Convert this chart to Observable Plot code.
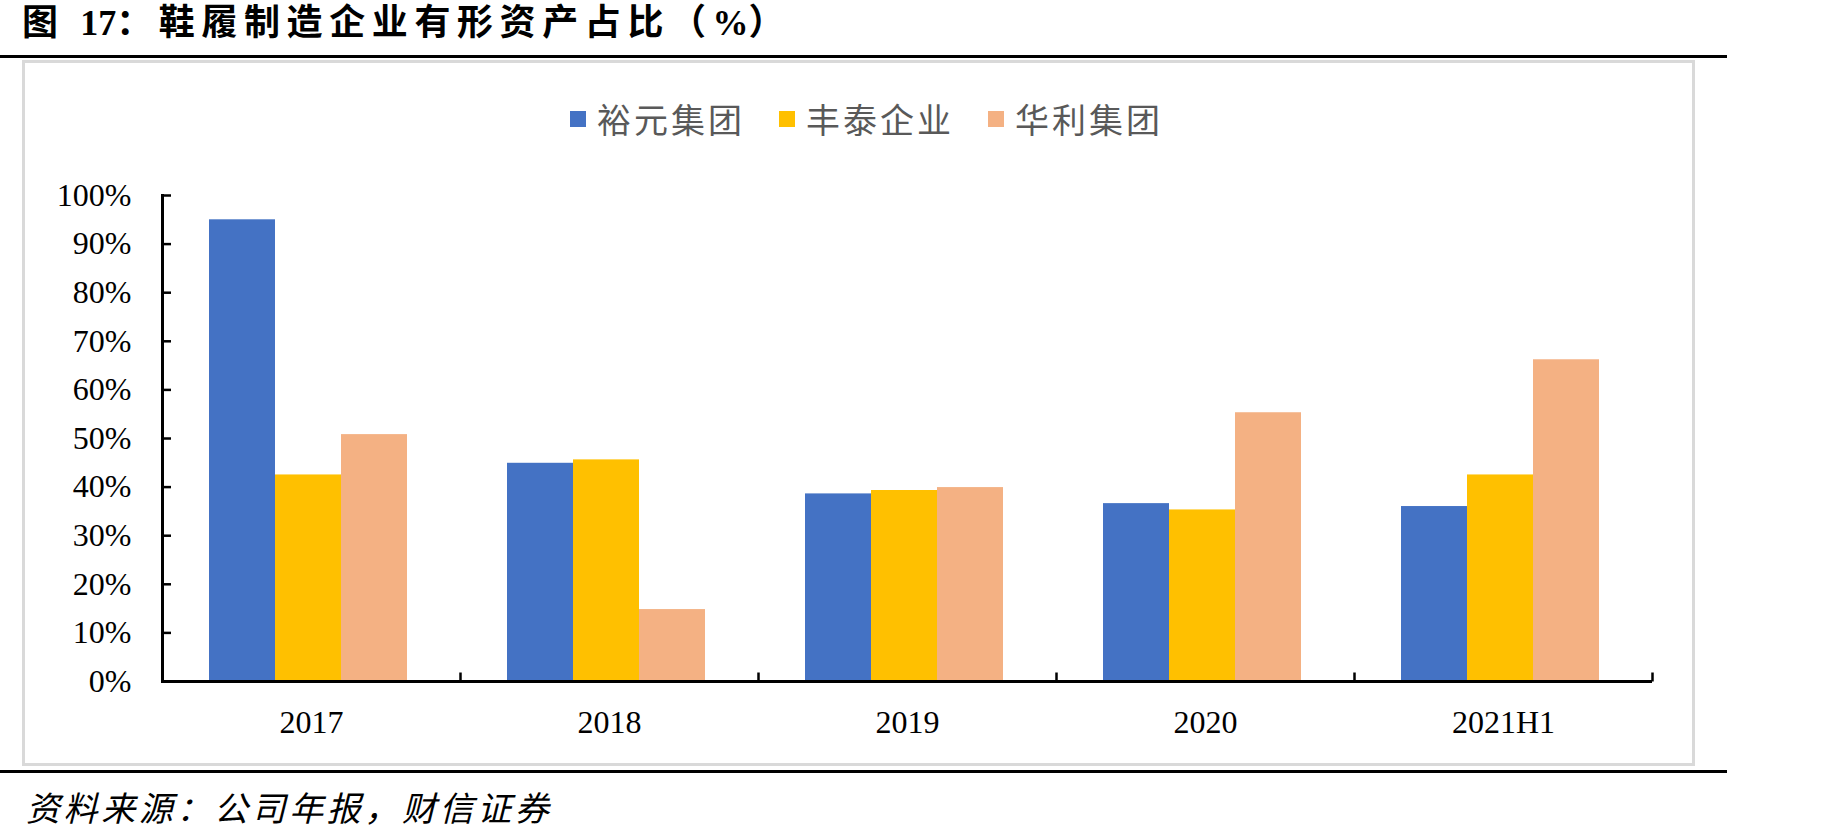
<!DOCTYPE html>
<html>
<head>
<meta charset="utf-8">
<script src="https://cdn.jsdelivr.net/npm/d3@7"></script>
<script src="https://cdn.jsdelivr.net/npm/@observablehq/plot@0.6"></script>
<style>
  body { margin: 0; background: #fff; }
  #page { position: relative; width: 1842px; height: 840px; overflow: hidden; font-family: "Noto Sans CJK SC", sans-serif; }
  #title { position: absolute; left: 22px; top: 4px; font-family: "Liberation Serif", "Noto Sans CJK SC", serif; font-size: 36px; line-height: 38px; font-weight: 700; letter-spacing: 6.6px; white-space: nowrap; color: #000; }
  #title .n { letter-spacing: 0; }
  .rule { position: absolute; left: 0; width: 1727px; height: 3px; background: #000; }
  #box { position: absolute; left: 22px; top: 60px; width: 1673px; height: 706px; border: 3px solid #d9d9d9; box-sizing: border-box; }
  #legend { position: absolute; left: 570px; top: 102px; display: flex; align-items: center; height: 34px; font-size: 34px; line-height: 34px; color: #595959; letter-spacing: 3px; white-space: nowrap; }
  #legend .item { display: flex; align-items: center; margin-right: 34px; }
  #legend .sw { width: 16px; height: 16px; margin-right: 11px; }
  #chart { position: absolute; left: 0; top: 150px; }
  #source { position: absolute; left: 26px; top: 790px; font-size: 34px; line-height: 34px; font-style: italic; letter-spacing: 3.6px; color: #000; white-space: nowrap; }
</style>
</head>
<body>
<div id="page">
  <div id="title">图 <span class="n">17</span>：鞋履制造企业有形资产占比（<span class="n">%</span>）</div>
  <div class="rule" style="top:55px"></div>
  <div id="box"></div>
  <div id="legend"></div>
  <div id="chart"></div>
  <div class="rule" style="top:770px"></div>
  <div id="source">资料来源：公司年报，财信证券</div>
</div>
<script>
const categories = ["2017", "2018", "2019", "2020", "2021H1"];
const series = ["裕元集团", "丰泰企业", "华利集团"];
const yuyuan = [95.0, 44.9, 38.6, 36.6, 36.0];
const fengtai = [42.5, 45.6, 39.3, 35.3, 42.5];
const huali = [50.8, 14.8, 39.9, 55.3, 66.2];
const colors = ["#4472C4", "#FFC000", "#F4B183"];
const yTicks = [0, 10, 20, 30, 40, 50, 60, 70, 80, 90, 100];

const seriesValues = [yuyuan, fengtai, huali];
const rows = categories.flatMap((c, i) =>
  seriesValues.map((vals, j) => ({category: c, series: series[j], value: vals[i]}))
);

// legend
const legend = document.getElementById("legend");
series.forEach((s, j) => {
  const item = document.createElement("div");
  item.className = "item";
  const sw = document.createElement("div");
  sw.className = "sw";
  sw.style.background = colors[j];
  const t = document.createElement("span");
  t.textContent = s;
  item.appendChild(sw);
  item.appendChild(t);
  legend.appendChild(item);
});

const tickUp = {draw(ctx) { ctx.moveTo(0, 0); ctx.lineTo(0, -9); }};

const chart = Plot.plot({
  width: 1700,
  height: 610,
  marginLeft: 161,
  marginRight: 48,
  marginTop: 45,
  marginBottom: 79,
  style: {fontFamily: "'Liberation Serif', 'Times New Roman', serif", fontSize: "32px", color: "#000", background: "transparent", overflow: "visible"},
  fx: {domain: categories, paddingInner: 0, paddingOuter: 0, label: null, tickSize: 0, tickPadding: 29},
  x: {domain: series, paddingInner: 0, paddingOuter: 0.74, align: 0.47, axis: null},
  y: {domain: [0, 100], label: null},
  color: {domain: series, range: colors},
  marks: [
    Plot.barY(rows, {fx: "category", x: "series", y: "value", fill: "series"}),
    Plot.ruleY([0], {stroke: "#000", strokeWidth: 3}),
    Plot.frame({anchor: "left", facetAnchor: "left", stroke: "#000", strokeWidth: 3}),
    Plot.axisY({ticks: yTicks, tickFormat: d => d + "%", tickSize: -9, tickPadding: 40, strokeWidth: 2.5, label: null}),
    Plot.dot(categories, {fx: d => d, frameAnchor: "bottom-left", symbol: tickUp, stroke: "#000", strokeWidth: 2.5, fill: "none"}),
    Plot.dot(categories.slice(-1), {fx: d => d, frameAnchor: "bottom-right", symbol: tickUp, stroke: "#000", strokeWidth: 2.5, fill: "none"})
  ]
});
document.getElementById("chart").appendChild(chart);
</script>
</body>
</html>
